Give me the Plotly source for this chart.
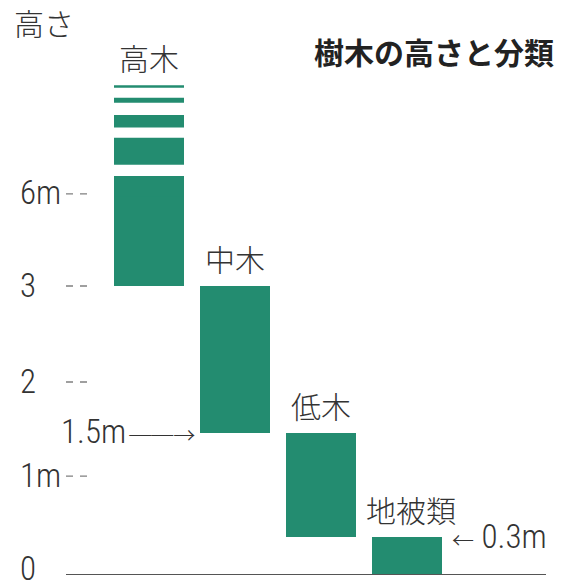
import numpy as np
import plotly.graph_objects as go

# ---- data ----
categories = ["高木", "中木", "低木", "地被類"]
height_low_m = [3, 1.5, 0.3, 0]
height_high_m = [6, 3, 1.5, 0.3]
tick_values_m = [0, 1, 2, 3, 6]
tick_labels = ["0", "1m", "2", "3", "6m"]
# schematic (non-proportional) height scale: metres -> axis units
scale_m = [0, 0.3, 1, 1.5, 2, 3, 6]
scale_units = [0, 0.385, 1.02, 1.47, 2.0, 3.0, 3.96]
# open-ended top of 高木 (beyond 6m), in axis units
tall_overflow_segments = [(3.96, 4.146), (4.264, 4.545), (4.65, 4.78), (4.91, 4.96), (5.065, 5.09)]
title_text = "樹木の高さと分類"
axis_title = "高さ"


def pos(m):
    return float(np.interp(m, scale_m, scale_units))


GREEN = "#238c70"
TXT = "#333333"
NUM_FONT = "Roboto Condensed"
JP_FONT = "Noto Sans CJK JP"

W, H = 565, 584
ML, MR, MT, MB = 66, 19, 60, 10
PW, PH = W - ML - MR, H - MT - MB
PX_PER_UNIT = 96
PX_PER_CAT = 86
OVERLAP = 0.03  # avoid anti-aliasing seam where segments meet


def paper_x(px):
    return (px - ML) / PW


def paper_y(py):
    return (H - MB - py) / PH


fig = go.Figure()

bases = [pos(l) for l in height_low_m]
tops = [pos(h) for h in height_high_m]
bar_w = 70 / PX_PER_CAT
fig.add_trace(go.Bar(x=categories, base=bases, y=[t - b for t, b in zip(tops, bases)],
                     marker=dict(color=GREEN, line=dict(width=0)), width=bar_w,
                     hoverinfo="skip"))
ov_base = [s[0] - (OVERLAP if i == 0 else 0) for i, s in enumerate(tall_overflow_segments)]
fig.add_trace(go.Bar(x=[categories[0]] * len(tall_overflow_segments),
                     base=ov_base,
                     y=[s[1] - b for s, b in zip(tall_overflow_segments, ov_base)],
                     marker=dict(color=GREEN, line=dict(width=0)), width=bar_w,
                     hoverinfo="skip"))

annotations = []
# category labels above bars
label_tops = [tall_overflow_segments[-1][1]] + tops[1:]
for c, t in zip(categories, label_tops):
    annotations.append(dict(x=c, y=t, xref="x", yref="y", text=c, showarrow=False,
                            yanchor="bottom", xanchor="center", yshift=4,
                            xshift=(4 if c == categories[-1] else 0),
                            font=dict(family=JP_FONT, size=30, color=TXT, weight=300)))

# y tick labels + dashes
shapes = []
for v, lab in zip(tick_values_m, tick_labels):
    annotations.append(dict(x=paper_x(18), y=pos(v), xref="paper", yref="y", text=lab,
                            showarrow=False, xanchor="left", yanchor="middle",
                            yshift=(6 if v == 0 else 1),
                            font=dict(family=NUM_FONT, size=33, color=TXT, weight=300)))
    if v != 0:
        shapes.append(dict(type="line", xref="paper", yref="y", x0=0, x1=paper_x(88),
                           y0=pos(v), y1=pos(v),
                           line=dict(color="#808080", width=1.3, dash="7px,7px")))

# marker annotations
ARROW_SPAN = "<span style='font-family:Noto Sans CJK JP;font-size:22px;font-weight:300'>{}</span>"
GAP_SPAN = "<span style='font-size:14px'> </span>"
annotations.append(dict(x=categories[1], y=pos(1.5), xref="x", yref="y",
                        text="1.5m" + GAP_SPAN + ARROW_SPAN.format("──→"),
                        showarrow=False, xanchor="right", yanchor="middle",
                        xshift=-bar_w / 2 * PX_PER_CAT - 3, yshift=1,
                        font=dict(family=NUM_FONT, size=33, color=TXT, weight=300)))
annotations.append(dict(x=categories[3], y=pos(0.3), xref="x", yref="y",
                        text=ARROW_SPAN.format("←") + " 0.3m",
                        showarrow=False, xanchor="left", yanchor="middle",
                        xshift=bar_w / 2 * PX_PER_CAT + 8, yshift=1,
                        font=dict(family=NUM_FONT, size=33, color=TXT, weight=300)))

# titles
annotations.append(dict(x=paper_x(12), y=paper_y(22), xref="paper", yref="paper",
                        text=axis_title, showarrow=False, xanchor="left", yanchor="middle",
                        font=dict(family=JP_FONT, size=30, color=TXT, weight=300)))
annotations.append(dict(x=paper_x(556), y=paper_y(51), xref="paper", yref="paper",
                        text="<b>" + title_text + "</b>", showarrow=False,
                        xanchor="right", yanchor="middle",
                        font=dict(family=JP_FONT, size=30, color="#222222")))

cat0_px = 149
fig.update_layout(
    width=W, height=H,
    margin=dict(l=ML, r=MR, t=MT, b=MB),
    paper_bgcolor="white", plot_bgcolor="white",
    barmode="overlay", showlegend=False,
    xaxis=dict(range=[(ML - cat0_px) / PX_PER_CAT, (W - MR - cat0_px) / PX_PER_CAT],
               showline=True, linecolor="#555555", linewidth=1.3,
               showticklabels=False, ticks="", showgrid=False, zeroline=False,
               fixedrange=True),
    yaxis=dict(range=[0, PH / PX_PER_UNIT], visible=False, showgrid=False,
               zeroline=False, fixedrange=True),
    annotations=annotations, shapes=shapes,
)

fig.write_html("out.html", config={"displayModeBar": False},
               post_script="document.body.style.margin='0';")
